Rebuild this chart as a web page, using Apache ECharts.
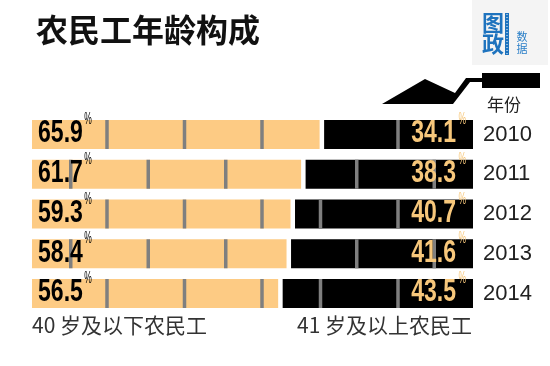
<!DOCTYPE html>
<html>
<head>
<meta charset="utf-8">
<script src="https://cdn.jsdelivr.net/npm/echarts@6/dist/echarts.min.js"></script>
<style>
html,body{margin:0;padding:0;background:#fff;}
#c{width:550px;height:366px;}
</style>
</head>
<body>
<div id="c"></div>
<script>
// ---- data ----
const years = ['2010', '2011', '2012', '2013', '2014'];
const under40 = [65.9, 61.7, 59.3, 58.4, 56.5];
const over41 = [34.1, 38.3, 40.7, 41.6, 43.5];
const titleText = '农民工年龄构成';
const leftLegend = '40 岁及以下农民工';
const rightLegend = '41 岁及以上农民工';
const yearHeader = '年份';

// ---- styles ----
const ORANGE = '#FDCB84';
const TICK = '#7F7F7F';
const ORANGE_TEXT = '#F7C77B';
const NUM_FONT = 'bold 32px "Liberation Sans"';
const NUM_SCALE = 0.72;
const PCT_FONT = '17px "Liberation Sans"';
const PCT_SCALE = 0.5;
const CJK = '"Noto Sans CJK SC", sans-serif';

const measureCtx = document.createElement('canvas').getContext('2d');
function textWidth(t, font) { measureCtx.font = font; return measureCtx.measureText(t).width; }

const seriesData = years.map((y, i) => [i, under40[i], over41[i]]);

function renderItem(params, api) {
  const i = api.value(0);
  const young = api.value(1);
  const old = api.value(2);
  const c0 = api.coord([0, i]);
  const x0 = c0[0], cy = c0[1];
  const xm = api.coord([young, i])[0];
  const x1 = api.coord([young + old, i])[0];
  const h = 29, top = cy - h / 2;
  const oEnd = xm - 3, bStart = xm + 1.5;
  const children = [];
  children.push({type: 'rect', shape: {x: x0, y: top, width: oEnd - x0, height: h}, style: {fill: ORANGE}});
  children.push({type: 'rect', shape: {x: bStart, y: top, width: x1 - bStart, height: h}, style: {fill: '#000'}});
  const brick = 77.5;
  const first = (i % 2 === 0) ? 75 : 38.75;
  for (let off = first; x0 + off < oEnd - 5; off += brick) {
    children.push({type: 'rect', shape: {x: x0 + off - 1.75, y: top, width: 3.5, height: h}, style: {fill: TICK}});
  }
  for (let off = first; x1 - off > bStart + 5; off += brick) {
    children.push({type: 'rect', shape: {x: x1 - off - 1.75, y: top, width: 3.5, height: h}, style: {fill: TICK}});
  }
  // left number
  const lt = young.toFixed(1);
  const lx = x0 + 6;
  const lw = textWidth(lt, NUM_FONT) * NUM_SCALE;
  children.push({type: 'text', x: lx, y: cy - 1, scaleX: NUM_SCALE,
    style: {text: lt, x: 0, y: 0, font: NUM_FONT, fill: '#000', align: 'left', verticalAlign: 'middle'}});
  children.push({type: 'text', x: lx + lw + 1.5, y: top - 9, scaleX: PCT_SCALE,
    style: {text: '%', x: 0, y: 0, font: PCT_FONT, fill: '#000', align: 'left', verticalAlign: 'top'}});
  // right number
  const rt = old.toFixed(1);
  const rx = x1 - 17;
  children.push({type: 'text', x: rx, y: cy - 1, scaleX: NUM_SCALE,
    style: {text: rt, x: 0, y: 0, font: NUM_FONT, fill: ORANGE_TEXT, align: 'right', verticalAlign: 'middle'}});
  children.push({type: 'text', x: rx + 2.5, y: top - 9, scaleX: PCT_SCALE,
    style: {text: '%', x: 0, y: 0, font: PCT_FONT, fill: ORANGE_TEXT, align: 'left', verticalAlign: 'top'}});
  return {type: 'group', children: children};
}

const chart = echarts.init(document.getElementById('c'), null, {renderer: 'canvas'});
chart.setOption({
  animation: false,
  backgroundColor: '#fff',
  grid: {left: 32, right: 77, top: 114.6, bottom: 52.6},
  xAxis: {type: 'value', min: 0, max: 100, show: false},
  yAxis: {
    type: 'category', data: years, inverse: true, position: 'right',
    axisLine: {show: false}, axisTick: {show: false}, splitLine: {show: false},
    axisLabel: {margin: 10, fontSize: 22, color: '#222', fontFamily: 'Liberation Sans', align: 'left'}
  },
  series: [{
    type: 'custom', renderItem: renderItem, data: seriesData,
    encode: {y: 0, x: [1, 2]}
  }],
  graphic: [
    {type: 'text', x: 36, y: 30, style: {text: titleText, font: 'bold 32px ' + CJK, fill: '#111', verticalAlign: 'middle', align: 'left'}},
    // logo
    {type: 'rect', shape: {x: 472, y: 0, width: 76, height: 65}, style: {fill: '#F4F4F4'}},
    {type: 'text', x: 493, y: 23, style: {text: '图', font: 'bold 22px ' + CJK, fill: '#1E73BE', align: 'center', verticalAlign: 'middle'}},
    {type: 'text', x: 493, y: 44, style: {text: '政', font: 'bold 22px ' + CJK, fill: '#1E73BE', align: 'center', verticalAlign: 'middle'}},
    {type: 'rect', shape: {x: 505, y: 13, width: 4, height: 42}, style: {fill: '#1E73BE'}},
    {type: 'line', shape: {x1: 507, y1: 14, x2: 507, y2: 54}, style: {stroke: '#fff', lineWidth: 1, lineDash: [1, 2]}},
    {type: 'text', x: 522, y: 37, style: {text: '数', font: '11px ' + CJK, fill: '#2A7FC8', align: 'center', verticalAlign: 'middle'}},
    {type: 'text', x: 522, y: 49, style: {text: '据', font: '11px ' + CJK, fill: '#2A7FC8', align: 'center', verticalAlign: 'middle'}},
    // trowel
    {type: 'polygon', shape: {points: [[382, 104], [425, 79], [455, 93], [466, 78], [482, 78], [482, 82], [470, 82], [453, 104]]}, style: {fill: '#000'}},
    {type: 'rect', shape: {x: 482, y: 73, width: 58, height: 15}, style: {fill: '#000'}},
    {type: 'text', x: 504, y: 105, style: {text: yearHeader, font: '17px ' + CJK, fill: '#222', align: 'center', verticalAlign: 'middle'}},
    // legends
    {type: 'text', x: 32, y: 325, style: {text: leftLegend, font: '21px ' + CJK, fill: '#333', align: 'left', verticalAlign: 'middle'}},
    {type: 'text', x: 472, y: 325, style: {text: rightLegend, font: '21px ' + CJK, fill: '#333', align: 'right', verticalAlign: 'middle'}}
  ]
});
</script>
</body>
</html>
